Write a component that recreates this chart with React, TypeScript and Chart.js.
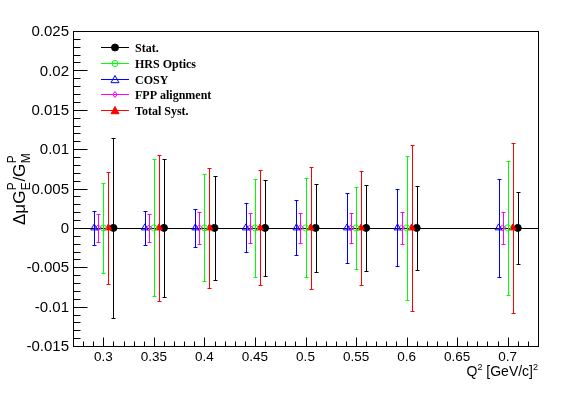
import React, { useEffect, useRef } from "react";
import { Chart, registerables } from "chart.js";

Chart.register(...registerables);

// ---- data ----
const q2Values = [0.3, 0.35, 0.4, 0.45, 0.5, 0.55, 0.6, 0.7];
const centralValues = [0, 0, 0, 0, 0, 0, 0, 0];

const statErrors = [0.0114, 0.0088, 0.0066, 0.0061, 0.0056, 0.0055, 0.0053, 0.0046];
const hrsErrors = [0.0057, 0.0087, 0.0068, 0.0062, 0.0063, 0.0052, 0.0091, 0.0085];
const cosyErrors = [0.0022, 0.0022, 0.0024, 0.0031, 0.0035, 0.0044, 0.0049, 0.0062];
const fppErrors = [0.0018, 0.0018, 0.002, 0.0019, 0.0019, 0.0019, 0.002, 0.002];
const totalErrors = [0.0071, 0.0093, 0.0076, 0.0073, 0.0077, 0.0072, 0.0105, 0.0108];

// Q^2 shifts of each series (so the bars do not overlap)
const statShift = 0.01;
const hrsShift = 0.0;
const cosyShift = -0.009;
const fppShift = -0.005;
const totalShift = 0.005;

const seriesLabels = ["Stat.", "HRS Optics", "COSY", "FPP alignment", "Total Syst."];

const yTickValues = [-0.015, -0.01, -0.005, 0, 0.005, 0.01, 0.015, 0.02, 0.025];
const yTickLabels = ["-0.015", "-0.01", "-0.005", "0", "0.005", "0.01", "0.015", "0.02", "0.025"];
const xTickValues = [0.3, 0.35, 0.4, 0.45, 0.5, 0.55, 0.6, 0.65, 0.7];
const xTickLabels = ["0.3", "0.35", "0.4", "0.45", "0.5", "0.55", "0.6", "0.65", "0.7"];

const X_MIN = 0.27;
const X_MAX = 0.73;
const Y_MIN = -0.015;
const Y_MAX = 0.025;

type Series = {
  label: string;
  color: string;
  style: string;
  filled: boolean;
  radius: number;
  shift: number;
  errors: number[];
};

const seriesDefs: Series[] = [
  { label: seriesLabels[2], color: "#0000ff", style: "triangle", filled: false, radius: 4, shift: cosyShift, errors: cosyErrors },
  { label: seriesLabels[3], color: "#ff00ff", style: "rectRot", filled: false, radius: 3, shift: fppShift, errors: fppErrors },
  { label: seriesLabels[1], color: "#00ff00", style: "circle", filled: false, radius: 3, shift: hrsShift, errors: hrsErrors },
  { label: seriesLabels[4], color: "#ff0000", style: "triangle", filled: true, radius: 4, shift: totalShift, errors: totalErrors },
  { label: seriesLabels[0], color: "#000000", style: "circle", filled: true, radius: 3.5, shift: statShift, errors: statErrors },
];

const legendOrder = [4, 2, 0, 1, 3];

function drawMarker(ctx: CanvasRenderingContext2D, style: string, x: number, y: number, r: number, color: string, filled: boolean) {
  ctx.save();
  ctx.beginPath();
  if (style === "circle") {
    ctx.arc(x, y, r, 0, Math.PI * 2);
  } else if (style === "triangle") {
    ctx.moveTo(x, y - r);
    ctx.lineTo(x + r, y + r * 0.8);
    ctx.lineTo(x - r, y + r * 0.8);
    ctx.closePath();
  } else if (style === "rectRot") {
    ctx.moveTo(x, y - r);
    ctx.lineTo(x + r * 0.7, y);
    ctx.lineTo(x, y + r);
    ctx.lineTo(x - r * 0.7, y);
    ctx.closePath();
  }
  ctx.lineWidth = 1;
  if (filled) {
    ctx.fillStyle = color;
    ctx.fill();
  }
  ctx.strokeStyle = color;
  ctx.stroke();
  ctx.restore();
}

const rootPlugin = {
  id: "rootStyle",
  beforeDatasetsDraw(chart: any) {
    const { ctx, chartArea: a, scales } = chart;
    const ys = scales.y;
    ctx.save();
    const y0 = Math.round(ys.getPixelForValue(0)) + 0.5;
    ctx.strokeStyle = "#000000";
    ctx.lineWidth = 1;
    ctx.beginPath();
    ctx.moveTo(a.left, y0);
    ctx.lineTo(a.right, y0);
    ctx.stroke();

    chart.data.datasets.forEach((ds: any, i: number) => {
      const meta = chart.getDatasetMeta(i);
      ds.errors.forEach((e: number, j: number) => {
        const el = meta.data[j];
        if (!el) return;
        const px = Math.round(el.x) + 0.5;
        const v = ds.data[j].y;
        const t = Math.round(ys.getPixelForValue(v + e)) + 0.5;
        const b = Math.round(ys.getPixelForValue(v - e)) + 0.5;
        ctx.strokeStyle = ds.borderColor;
        ctx.lineWidth = 1;
        ctx.beginPath();
        ctx.moveTo(px, t);
        ctx.lineTo(px, b);
        ctx.moveTo(px - 2, t);
        ctx.lineTo(px + 2, t);
        ctx.moveTo(px - 2, b);
        ctx.lineTo(px + 2, b);
        ctx.stroke();
      });
    });
    ctx.restore();
  },
  afterDraw(chart: any) {
    const { ctx, chartArea: a, scales } = chart;
    const xs = scales.x;
    const ys = scales.y;
    ctx.save();
    // frame
    ctx.strokeStyle = "#000000";
    ctx.lineWidth = 1;
    ctx.strokeRect(Math.round(a.left) + 0.5, Math.round(a.top) + 0.5, Math.round(a.right - a.left), Math.round(a.bottom - a.top));

    const L = Math.round(a.left) + 0.5;
    const B = Math.round(a.bottom) + 0.5;
    // y ticks (major + minor)
    ctx.beginPath();
    for (let k = 0; k <= 40; k++) {
      const v = Y_MIN + k * 0.001;
      const py = Math.round(ys.getPixelForValue(v)) + 0.5;
      const len = k % 5 === 0 ? 14 : 7;
      ctx.moveTo(L, py);
      ctx.lineTo(L + len, py);
    }
    // x ticks
    for (let k = 0; k <= 46; k++) {
      const v = X_MIN + k * 0.01;
      if (v > X_MAX + 1e-9) break;
      const px = Math.round(xs.getPixelForValue(v)) + 0.5;
      const major = Math.abs(v * 20 - Math.round(v * 20)) < 1e-6;
      const len = major ? 9 : 5;
      ctx.moveTo(px, B);
      ctx.lineTo(px, B - len);
    }
    ctx.stroke();

    // tick labels
    ctx.fillStyle = "#000000";
    ctx.font = '15px "Liberation Sans", Arial, sans-serif';
    ctx.textAlign = "right";
    ctx.textBaseline = "middle";
    yTickValues.forEach((v, i) => {
      ctx.fillText(yTickLabels[i], a.left - 4, ys.getPixelForValue(v) + 1);
    });
    ctx.font = '13.5px "Liberation Sans", Arial, sans-serif';
    ctx.textAlign = "center";
    ctx.textBaseline = "top";
    xTickValues.forEach((v, i) => {
      ctx.fillText(xTickLabels[i], xs.getPixelForValue(v), a.bottom + 5);
    });

    // x title  Q^2 [GeV/c]^2 (right aligned)
    {
      const main = '14px "Liberation Sans", Arial, sans-serif';
      const sup = '9px "Liberation Sans", Arial, sans-serif';
      const base = a.bottom + 30;
      const parts: [string, string, number][] = [
        ["Q", main, 0],
        ["2", sup, -6],
        [" [GeV/c]", main, 0],
        ["2", sup, -6],
      ];
      let total = 0;
      parts.forEach(([t, f]) => {
        ctx.font = f;
        total += ctx.measureText(t).width;
      });
      let x = a.right - total;
      ctx.textAlign = "left";
      ctx.textBaseline = "alphabetic";
      parts.forEach(([t, f, dy]) => {
        ctx.font = f;
        ctx.fillText(t, x, base + dy);
        x += ctx.measureText(t).width;
      });
    }

    // y title ΔμG_E^P / G_M^P, rotated
    {
      const main = '17px "Liberation Sans", Arial, sans-serif';
      const scr = '12px "Liberation Sans", Arial, sans-serif';
      ctx.save();
      ctx.translate(25, 225);
      ctx.rotate(-Math.PI / 2);
      ctx.textAlign = "left";
      ctx.textBaseline = "alphabetic";
      let x = 0;
      ctx.font = main;
      ctx.fillText("\u0394\u03bcG", x, 0);
      x += ctx.measureText("\u0394\u03bcG").width;
      ctx.font = scr;
      ctx.fillText("P", x + 0.5, -9);
      ctx.fillText("E", x + 0.5, 5);
      x += Math.max(ctx.measureText("P").width, ctx.measureText("E").width) + 1;
      ctx.font = main;
      ctx.fillText("/G", x, 0);
      x += ctx.measureText("/G").width;
      ctx.font = scr;
      ctx.fillText("P", x + 0.5, -9);
      ctx.fillText("M", x + 0.5, 5);
      ctx.restore();
    }

    // legend
    ctx.font = 'bold 12px "Liberation Serif", "Times New Roman", serif';
    ctx.textAlign = "left";
    ctx.textBaseline = "middle";
    legendOrder.forEach((si, row) => {
      const s = seriesDefs[si];
      const y = Math.round(47 + row * 15.8) + 0.5;
      ctx.strokeStyle = s.color;
      ctx.lineWidth = 1;
      ctx.beginPath();
      ctx.moveTo(101, y);
      ctx.lineTo(129, y);
      ctx.stroke();
      drawMarker(ctx, s.style, 115, y, s.radius, s.color, s.filled);
      ctx.fillStyle = "#000000";
      ctx.fillText(s.label, 135, y + 1);
    });
    ctx.restore();
  },
};

export default function App() {
  const canvasRef = useRef<HTMLCanvasElement | null>(null);

  useEffect(() => {
    const canvas = canvasRef.current;
    if (!canvas) return;
    const datasets = seriesDefs.map((s) => ({
      label: s.label,
      data: q2Values.map((q, i) => ({ x: q + s.shift, y: centralValues[i] })),
      errors: s.errors,
      borderColor: s.color,
      backgroundColor: s.filled ? s.color : "rgba(0,0,0,0)",
      pointStyle: s.style,
      pointRadius: s.radius,
      pointBorderWidth: 1,
      showLine: false,
    }));
    const chart = new Chart(canvas, {
      type: "scatter",
      data: { datasets } as any,
      options: {
        animation: false,
        responsive: false,
        devicePixelRatio: 1,
        layout: { padding: { left: 73, top: 31, right: 43, bottom: 48 } },
        plugins: { legend: { display: false }, tooltip: { enabled: false } },
        scales: {
          x: { type: "linear", min: X_MIN, max: X_MAX, display: false },
          y: { type: "linear", min: Y_MIN, max: Y_MAX, display: false },
        },
      },
      plugins: [rootPlugin],
    });
    return () => chart.destroy();
  }, []);

  return (
    <div style={{ position: "fixed", left: 0, top: 0, width: 581, height: 394, background: "#ffffff" }}>
      <canvas ref={canvasRef} width={581} height={394} />
    </div>
  );
}
